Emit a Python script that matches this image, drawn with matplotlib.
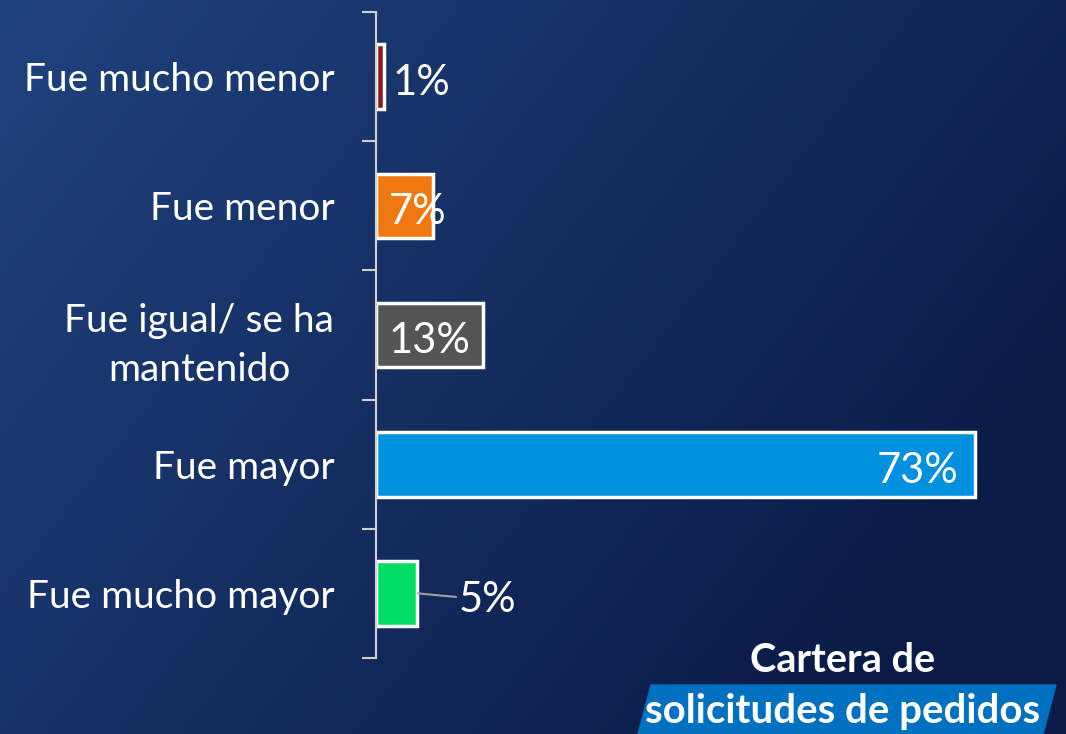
import numpy as np
import matplotlib
matplotlib.use('Agg')
import matplotlib.pyplot as plt
from matplotlib.patches import Polygon

categories = ['Fue mucho menor', 'Fue menor', 'Fue igual/ se ha\nmantenido',
              'Fue mayor', 'Fue mucho mayor']
values = [1, 7, 13, 73, 5]
labels = ['1%', '7%', '13%', '73%', '5%']
colors = ['#8B1A1A', '#F07810', '#555555', '#0090E0', '#00DC64']

plt.rcParams['font.family'] = ['Lato', 'DejaVu Sans']

fig = plt.figure(figsize=(10.66, 7.34), dpi=100)

# background gradient
bg = fig.add_axes([0, 0, 1, 1])
xx, yy = np.meshgrid(np.linspace(0, 1, 300), np.linspace(0, 1, 200))
left_col = np.array([0x20, 0x42, 0x7e]) / 255
right_col = np.array([0x0b, 0x1a, 0x46]) / 255
t = np.clip(0.75 * xx + 0.4 * yy, 0, 1)
img = left_col[None, None, :] * (1 - t[..., None]) + right_col[None, None, :] * t[..., None]
bg.imshow(img, aspect='auto', extent=[0, 1, 0, 1], origin='upper')
bg.set_xlim(0, 1)
bg.set_ylim(0, 1)
bg.axis('off')

ax = fig.add_axes([376 / 1066, 1 - 658 / 734, 690 / 1066, 646 / 734])
ax.patch.set_alpha(0)
y = np.arange(len(categories))
ax.barh(y, values, height=0.5, color=colors, edgecolor='white', linewidth=2.5)
ax.set_xlim(0, 84.1)
ax.set_ylim(4.5, -0.5)

for s in ['top', 'right', 'bottom']:
    ax.spines[s].set_visible(False)
ax.spines['left'].set_color('#d0d0d0')
ax.spines['left'].set_linewidth(1.5)
ax.set_xticks([])
ax.set_yticks(np.arange(-0.5, 5.0, 1.0))
ax.set_yticklabels([])
ax.tick_params(axis='y', which='major', length=10, width=1.5, color='#d0d0d0')
ax.set_yticks(y, minor=True)
ax.set_yticklabels(categories, minor=True, fontsize=28, color='white',
                   multialignment='center', linespacing=1.45)
ax.tick_params(axis='y', which='minor', length=0, pad=30)

lab_fs = 30
ax.text(values[0] + 1.0, 0.05, labels[0], ha='left', va='center',
        fontsize=lab_fs, color='white')
ax.text(values[1] / 2 + 1.6, 1.05, labels[1], ha='center', va='center',
        fontsize=lab_fs, color='white')
ax.text(values[2] / 2, 2.05, labels[2], ha='center', va='center',
        fontsize=lab_fs, color='white')
ax.text(values[3] - 2.0, 3.05, labels[3], ha='right', va='center',
        fontsize=lab_fs, color='white')
ax.annotate(labels[4], xy=(values[4] + 0.1, 4.0), xytext=(values[4] + 5.1, 4.05),
            ha='left', va='center', fontsize=lab_fs, color='white',
            arrowprops=dict(arrowstyle='-', color='#a0a0a0', lw=1.5,
                            shrinkA=0, shrinkB=0))

# caption at the bottom right
fig.text(843 / 1066, 1 - 660 / 734, 'Cartera de', ha='center', va='center',
         fontsize=28.5, fontweight='bold', color='white')
band = Polygon([(651 / 1066, 1 - 685 / 734), (1056 / 1066, 1 - 685 / 734),
                (1043 / 1066, 0), (638 / 1066, 0)],
               closed=True, transform=fig.transFigure, color='#0070C0', zorder=2)
fig.patches.append(band)
fig.text(843 / 1066, 1 - 711 / 734, 'solicitudes de pedidos', ha='center',
         va='center', fontsize=29, fontweight='bold', color='white', zorder=3)

fig.savefig('out.png', dpi=100)
